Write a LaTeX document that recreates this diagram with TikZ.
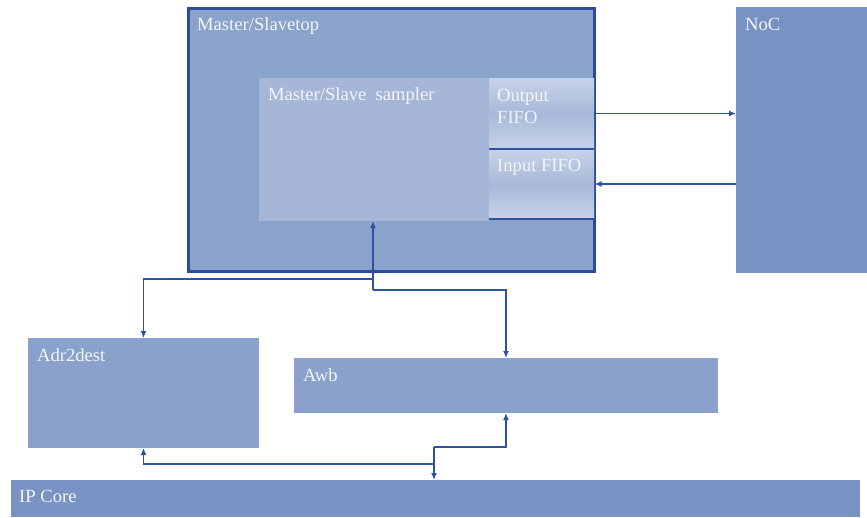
\documentclass[tikz,border=0pt]{standalone}
\usepackage{fontspec}
\setmainfont{Liberation Serif}
\usetikzlibrary{arrows.meta}
\definecolor{outerfill}{HTML}{8AA3CB}
\definecolor{outerline}{HTML}{2A4C9A}
\definecolor{samplerfill}{HTML}{A6B6D7}
\definecolor{nocfill}{HTML}{7893C3}
\definecolor{blockfill}{HTML}{8AA2CB}
\definecolor{ipfill}{HTML}{7993C4}
\definecolor{connc}{HTML}{2F52A0}
\definecolor{fifotop}{HTML}{C8D3E8}
\definecolor{fifomid}{HTML}{A8B8D8}
\definecolor{txt}{HTML}{F2F5FB}
\begin{document}
\begin{tikzpicture}[x=1pt,y=-1pt,
  blk/.style={anchor=north west, inner sep=0pt, outer sep=0pt, draw=none},
  lbl/.style={anchor=base west, inner sep=0pt, text=txt, font=\fontsize{18.6}{22}\selectfont},
  conn/.style={draw=connc, line width=1.3pt, -{Latex[length=7pt,width=6pt]}},
  sep/.style={draw=connc, line width=1.5pt},
]
\useasboundingbox (0,0) rectangle (867,517);
% blocks
\node[blk, fill=outerfill, draw=outerline, line width=3pt, minimum width=406pt, minimum height=263pt] (top) at (188.5,8.5) {};
\node[blk, fill=samplerfill, minimum width=230pt, minimum height=143pt] (sampler) at (259,78) {};
\node[blk, top color=fifotop, bottom color=fifotop, middle color=fifomid, minimum width=105pt, minimum height=71pt] (ofifo) at (489,78) {};
\node[blk, top color=fifotop, bottom color=fifotop, middle color=fifomid, minimum width=105pt, minimum height=70pt] (ififo) at (489,149) {};
\draw[sep] (ofifo.south west) -- (ofifo.south east);
\draw[sep] (ififo.south west) -- (ififo.south east);
\node[blk, fill=nocfill, minimum width=131pt, minimum height=266pt] (noc) at (736,7) {};
\node[blk, fill=blockfill, minimum width=231pt, minimum height=110pt] (adr) at (28,338) {};
\node[blk, fill=blockfill, minimum width=424pt, minimum height=55pt] (awb) at (294,358) {};
\node[blk, fill=ipfill, minimum width=849pt, minimum height=37pt] (ip) at (11,480) {};
% labels
\node[lbl] (ltop) at (197,30.5) {Master/Slavetop};
\node[lbl] (lsampler) at (268,100.5) {Master/Slave\ \ sampler};
\node[lbl] (lofifo1) at (497,101) {Output};
\node[lbl] (lofifo2) at (497,123) {FIFO};
\node[lbl] (lififo) at (497,171.5) {Input FIFO};
\node[lbl] (lnoc) at (745,30.5) {NoC};
\node[lbl] (ladr) at (37,361) {Adr2dest};
\node[lbl] (lawb) at (303,381.5) {Awb};
\node[lbl] (lip) at (19,502) {IP Core};
% connectors
\draw[conn] (ofifo.east) -- (ofifo.east -| noc.west);
\draw[conn] (ififo.east -| noc.west) -- (ififo.east -| top.east);
\coordinate (j1) at (373,279);
\coordinate (j2) at (373,290);
\draw[conn] (j2) -- (sampler.south -| j2);
\draw[conn] (j1) -| (adr.north);
\draw[conn] (j2) -| (awb.north);
\coordinate (k1) at (434,447);
\coordinate (k2) at (434,464);
\draw[conn] (k1) -- (k1 |- ip.north);
\draw[conn] (k1) -| (awb.south);
\draw[conn] (k2) -| (adr.south);
\end{tikzpicture}
\end{document}
